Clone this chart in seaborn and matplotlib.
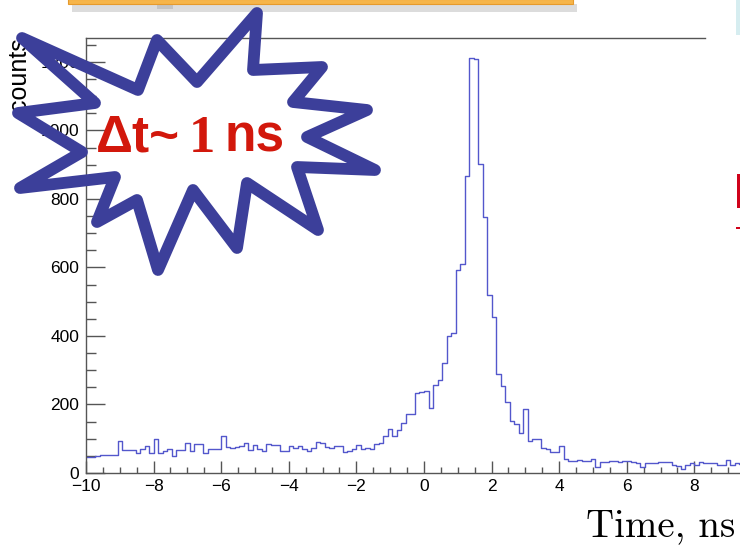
import numpy as np
import pandas as pd
import seaborn as sns
import matplotlib.pyplot as plt
from matplotlib.patches import Polygon, Rectangle
from matplotlib.ticker import MultipleLocator

# Histogram: 150 bins from -10 to 10 ns, counts
t_min, t_max, n_bins = -10, 10, 150
counts = [
    48, 48, 49, 52, 53, 53, 52, 94, 67, 67,
    67, 58, 70, 79, 58, 98, 57, 63, 70, 50,
    66, 68, 88, 65, 84, 84, 58, 70, 70, 70,
    109, 77, 74, 77, 80, 87, 67, 82, 69, 65,
    85, 81, 81, 64, 64, 79, 72, 79, 69, 65,
    72, 90, 88, 77, 74, 80, 78, 60, 65, 71,
    82, 69, 72, 70, 85, 87, 108, 129, 108, 126,
    147, 172, 172, 233, 236, 239, 189, 257, 272, 320,
    400, 410, 593, 610, 867, 1213, 1208, 902, 748, 520,
    455, 290, 255, 208, 152, 142, 116, 188, 92, 98,
    98, 74, 69, 60, 60, 80, 40, 34, 36, 37,
    36, 34, 40, 17, 32, 32, 35, 35, 32, 35,
    35, 32, 28, 18, 28, 30, 30, 32, 32, 32,
    24, 20, 11, 22, 30, 24, 32, 28, 30, 30,
    24, 24, 37, 22, 28, 27, 27, 25, 30, 28,
]
x_ticks = list(range(-10, 11, 2))
y_ticks = list(range(0, 1201, 200))

edges = np.linspace(t_min, t_max, n_bins + 1)
df = pd.DataFrame({'time': (edges[:-1] + edges[1:]) / 2, 'counts': counts})

sns.set_theme(style='white')
plt.rcParams['font.family'] = ['Liberation Sans', 'DejaVu Sans']

W, H = 740, 551
fig = plt.figure(figsize=(W / 100, H / 100), dpi=100)
fig.patch.set_facecolor('white')


def px(x, y):
    return (x / W, 1 - y / H)


# axes run past the right edge of the picture (cropped slide)
ax = fig.add_axes([86 / W, 1 - 473 / H, (762 - 86) / W, (473 - 38) / H])
ax.set_facecolor('white')

sns.histplot(data=df, x='time', weights='counts', bins=n_bins,
             binrange=(t_min, t_max), element='step', fill=False,
             color='#5357cc', linewidth=1.0, ax=ax)

ax.set_xlim(t_min, t_max)
ax.set_ylim(0, 1270)
ax.set_xlabel('')
ax.set_ylabel('')
ax.set_xticks(x_ticks)
ax.set_yticks(y_ticks)
ax.xaxis.set_minor_locator(MultipleLocator(0.5))
ax.yaxis.set_minor_locator(MultipleLocator(50))

ax.tick_params(axis='x', which='major', direction='in', length=9, width=1,
               color='#555555', labelsize=12.5, labelcolor='black', pad=4, bottom=True)
ax.tick_params(axis='x', which='minor', direction='in', length=4, width=1,
               color='#555555', bottom=True)
ax.tick_params(axis='y', which='major', direction='in', length=14, width=1,
               color='#555555', labelsize=12.5, labelcolor='black', pad=5, left=True)
ax.tick_params(axis='y', which='minor', direction='in', length=7, width=1,
               color='#555555', left=True)

for side in ['left', 'bottom', 'top']:
    ax.spines[side].set_color('#555555')
    ax.spines[side].set_linewidth(1)
ax.spines['right'].set_visible(False)
ax.spines['top'].set_bounds(t_min, 8.31)

# axis titles
fig.text(*px(19, 37), 'counts', rotation=90, ha='center', va='top',
         fontsize=18, color='black', zorder=1)
fig.text(*px(735, 536), 'Time, ns', ha='right', va='baseline',
         fontsize=28, family='cmr10', color='black')

# bits of the slide around the plot
fig.add_artist(Rectangle(px(72, 12), 505 / W, 8 / H, facecolor='#dcdcdc',
                         edgecolor='none', zorder=2))
fig.add_artist(Rectangle(px(157, 9), 16 / W, 6 / H, facecolor='#c4c4c4',
                         edgecolor='none', zorder=2))
fig.add_artist(Rectangle(px(68, 4), 505 / W, 5 / H, facecolor='#f6b54a',
                         edgecolor='#e69a2c', linewidth=0.8, zorder=3))
fig.add_artist(Rectangle(px(736, 35), 4 / W, 35 / H, facecolor='#d6edf0',
                         edgecolor='none', zorder=3))
fig.add_artist(Rectangle(px(737, 208), 3 / W, 34 / H, facecolor='#d0021b',
                         edgecolor='none', zorder=3))
fig.add_artist(Rectangle(px(736, 229), 4 / W, 2 / H, facecolor='#d0021b',
                         edgecolor='none', zorder=3))

# starburst callout (outline only)
star = [(22, 38), (138, 90), (157, 40), (197, 82), (257, 13), (253, 70),
        (322, 67), (293, 102), (367, 110), (307, 137), (375, 170), (297, 167),
        (318, 230), (247, 183), (237, 248), (193, 190), (158, 270), (137, 200),
        (97, 222), (115, 177), (20, 188), (82, 152), (18, 113), (95, 103)]
fig.add_artist(Polygon([px(x, y) for x, y in star], closed=True,
                       facecolor='none', edgecolor='#3c3f9a', linewidth=8.5,
                       joinstyle='round', zorder=5))

red = '#d2180c'
fig.text(*px(96, 152), 'Δt~', ha='left', va='baseline', fontsize=37,
         fontweight='bold', color=red, zorder=6)
fig.text(*px(189, 152), '1', ha='left', va='baseline', fontsize=38,
         fontweight='bold', family='Liberation Serif', color=red, zorder=6)
fig.text(*px(224, 152), 'ns', ha='left', va='baseline', fontsize=37,
         fontweight='bold', color=red, zorder=6)

fig.savefig('out.png', dpi=100)
